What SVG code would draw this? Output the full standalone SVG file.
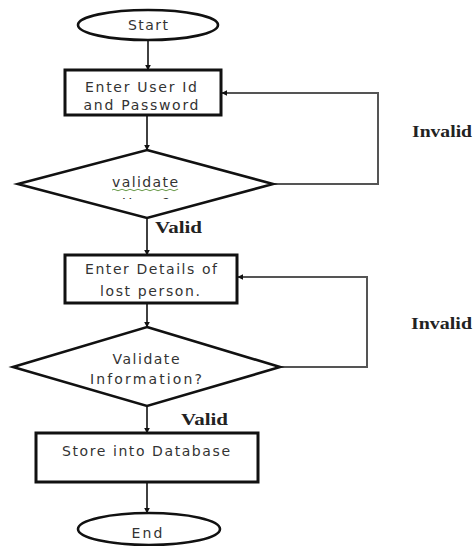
<svg xmlns="http://www.w3.org/2000/svg" width="474" height="546" viewBox="0 0 474 546">
<style>
.shape{fill:#fff;stroke:#111;stroke-width:2.6}
.box{fill:#fff;stroke:#111;stroke-width:3}
.t{font-family:"DejaVu Sans",Verdana,sans-serif;font-size:14px;fill:#333;text-anchor:middle}
.lbl{font-family:"Liberation Serif","Times New Roman",serif;font-size:16px;font-weight:bold;fill:#222}
.flow{fill:none;stroke:#111;stroke-width:1.6}
.loop{fill:none;stroke:#555;stroke-width:2}
</style>
<defs>
<marker id="arr" viewBox="0 0 10 10" refX="9" refY="5" markerWidth="6" markerHeight="6" orient="auto" markerUnits="userSpaceOnUse">
<path d="M0,0 L10,5 L0,10 z" fill="#111"/>
</marker>
<clipPath id="clipUser"><rect x="100" y="150" width="100" height="49"/></clipPath>
</defs>
<rect width="474" height="546" fill="#fff"/>
<g id="connectors">
<line class="flow" x1="148" y1="40" x2="148" y2="70" marker-end="url(#arr)"/>
<line class="flow" x1="147" y1="115" x2="147" y2="150" marker-end="url(#arr)"/>
<line class="flow" x1="147" y1="218" x2="147" y2="255" marker-end="url(#arr)"/>
<line class="flow" x1="147" y1="303" x2="147" y2="327" marker-end="url(#arr)"/>
<line class="flow" x1="147" y1="406" x2="147" y2="433" marker-end="url(#arr)"/>
<line class="flow" x1="147" y1="482" x2="147" y2="513" marker-end="url(#arr)"/>
<polyline class="loop" points="273,184 378,184 378,93 222,93" marker-end="url(#arr)"/>
<polyline class="loop" points="280,367 367,367 367,277 238,277" marker-end="url(#arr)"/>
<text class="lbl" x="155" y="233" textLength="47" lengthAdjust="spacingAndGlyphs">Valid</text>
<text class="lbl" x="412" y="137" textLength="60" lengthAdjust="spacingAndGlyphs">Invalid</text>
<text class="lbl" x="181" y="425" textLength="47" lengthAdjust="spacingAndGlyphs">Valid</text>
<text class="lbl" x="411" y="329" textLength="61" lengthAdjust="spacingAndGlyphs">Invalid</text>
</g>
<g id="start">
<ellipse class="shape" cx="148" cy="25" rx="70" ry="15"/>
<text class="t" x="148" y="30" textLength="40">Start</text>
</g>
<g id="enter-credentials">
<rect class="box" x="65" y="70" width="156" height="45"/>
<text class="t" x="141" y="92" textLength="112">Enter User Id</text>
<text class="t" x="141" y="110" textLength="115">and Password</text>
</g>
<g id="validate-user">
<polygon class="shape" points="147,150 273,184 147,218 18,184"/>
<text class="t" x="145" y="187" textLength="66">validate</text>
<path d="M112,190 q2,-1.5 4,0 t4,0 t4,0 t4,0 t4,0 t4,0 t4,0 t4,0 t4,0 t4,0 t4,0 t4,0 t4,0 t4,0 t4,0 t4,0 t2,0" fill="none" stroke="#6a9a4a" stroke-width="1"/>
<text class="t" x="146" y="208" textLength="48" clip-path="url(#clipUser)">User?</text>
</g>
<g id="enter-details">
<rect class="box" x="65" y="255" width="172" height="48"/>
<text class="t" x="151" y="274" textLength="132">Enter Details of</text>
<text class="t" x="150" y="296" textLength="100">lost person.</text>
</g>
<g id="validate-info">
<polygon class="shape" points="147,327 280,367 147,406 13,367"/>
<text class="t" x="146" y="364" textLength="67">Validate</text>
<text class="t" x="146" y="384" textLength="112">Information?</text>
</g>
<g id="store">
<rect class="box" x="36" y="433" width="222" height="49"/>
<text class="t" x="146" y="456" textLength="168">Store into Database</text>
</g>
<g id="end">
<ellipse class="shape" cx="149" cy="529" rx="71" ry="16"/>
<text class="t" x="147" y="538" textLength="31">End</text>
</g>
</svg>
